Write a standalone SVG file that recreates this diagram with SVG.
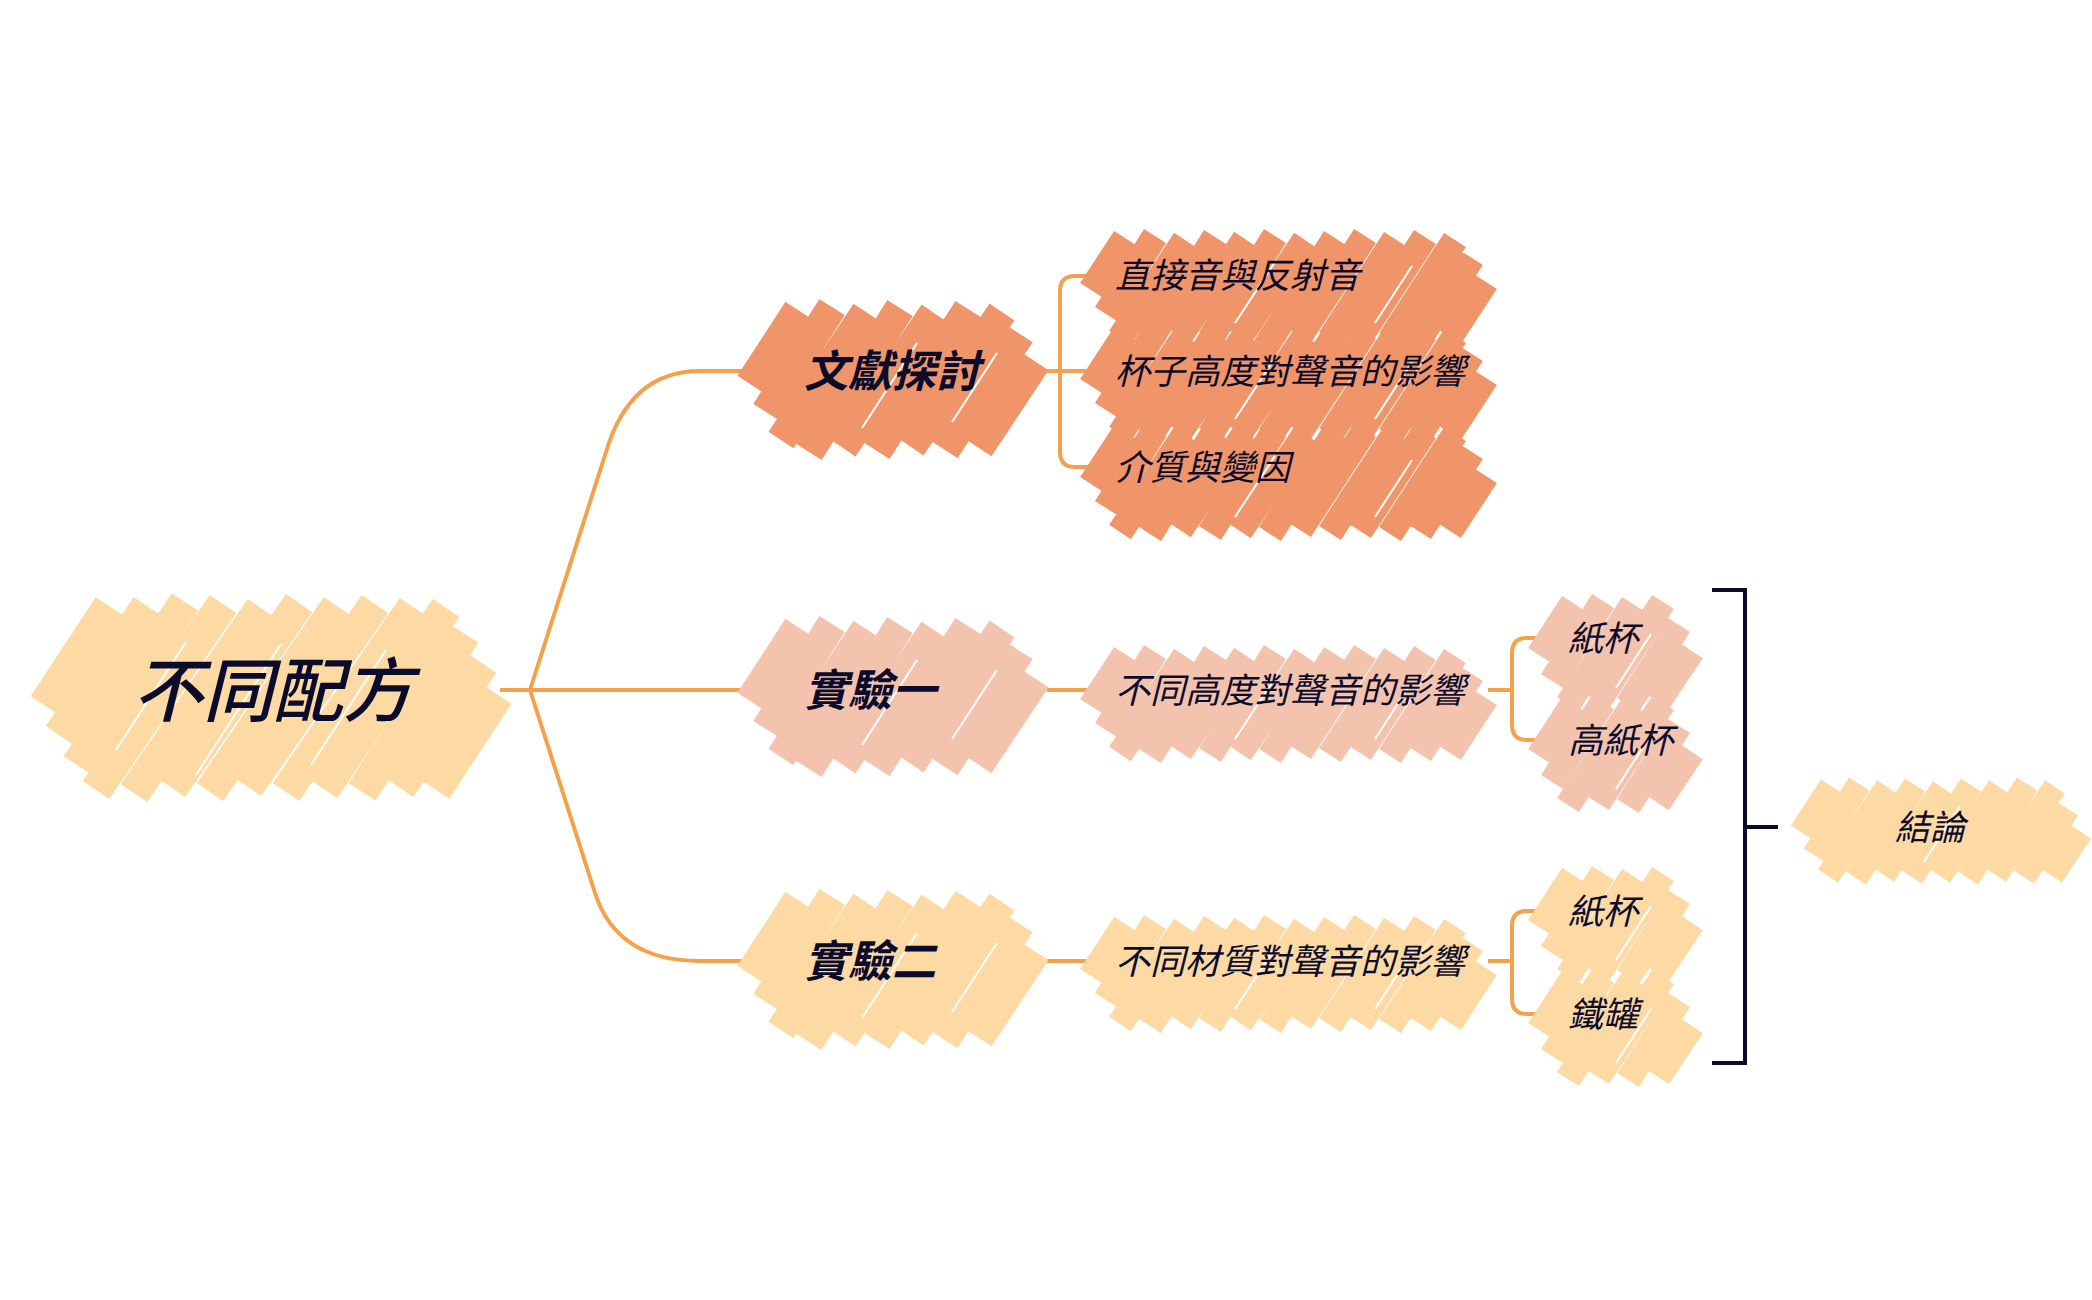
<svg xmlns="http://www.w3.org/2000/svg" xmlns:xlink="http://www.w3.org/1999/xlink" width="2092" height="1300" viewBox="0 0 2092 1300">
<style>
.t{font-family:"Noto Sans CJK TC","Noto Sans CJK SC",sans-serif;font-style:italic;fill:#0b0b2b}
.b{font-weight:700}
.c{fill:none;stroke:#F5A04B;stroke-width:4}
.k{fill:none;stroke:#0b0b2b;stroke-width:4}
.w{stroke:#ffffff;stroke-width:2}
</style>
<defs>
<g id="h-root" stroke-width="32" stroke-linecap="butt" fill="none">
<path d="M8,105 L73,6 M23,135 L111,6 M41,165 L149,2 M60,190 L187,4 M98,193 L225,8 M136,188 L263,3 M174,192 L301,6 M212,187 L339,4 M250,192 L377,7 M288,189 L410,8 M326,192 L429,34 M364,188 L447,64 M400,190 L462,95"/>
<path class="w" d="M80,150 L150,42 M160,175 L245,44 M275,165 L350,50"/>
</g>
<g id="h-l1" stroke-width="30" stroke-linecap="butt" fill="none">
<path d="M3,74 L51,0 M19,102 L85,-3 M34,130 L119,2 M62,142 L153,-2 M96,138 L187,3 M130,141 L221,-1 M164,137 L255,2 M198,140 L273,24 M232,138 L289,52"/>
<path class="w" d="M115,118 L170,33 M205,112 L250,43"/>
</g>
<g id="h-l2" stroke-width="26" stroke-linecap="butt" fill="none">
<path d="M1,52 L35,0 M16,76 L65,-2 M30,100 L95,2 M60,102 L125,-1 M90,98 L155,1 M120,101 L185,-2 M150,99 L215,2 M180,102 L245,0 M210,98 L275,-2 M240,101 L305,1 M270,99 L335,-1 M300,102 L365,2 M330,100 L382,20 M360,99 L396,44"/>
<path class="w" d="M145,85 L185,24 M285,85 L322,28"/>
</g>
<g id="h-leaf" stroke-width="26" stroke-linecap="butt" fill="none">
<path d="M1,52 L35,0 M14,78 L65,-2 M30,101 L95,1 M60,99 L125,-1 M90,102 L141,22 M120,99 L154,48"/>
<path class="w" d="M78,85 L113,31"/>
</g>
<g id="h-concl" stroke-width="24" stroke-linecap="butt" fill="none">
<path d="M1,46 L31,0 M14,69 L59,-2 M28,90 L87,1 M56,92 L115,-1 M84,89 L143,2 M112,91 L171,-1 M140,90 L199,1 M168,92 L227,-2 M196,89 L255,1 M224,91 L268,23 M252,90 L281,46"/>
<path class="w" d="M124,76 L160,20"/>
</g>
</defs>

<g id="connectors">
<path class="c" d="M500,690 H530"/>
<path class="c" d="M530,690 L606,452 Q630,371 700,371 H758"/>
<path class="c" d="M530,690 H758"/>
<path class="c" d="M530,690 L595,893 Q617,961 700,961 H758"/>
<path class="c" d="M1047,371 H1097"/>
<path class="c" d="M1097,276 H1075 Q1060,276 1060,291 V452 Q1060,467 1075,467 H1097"/>
<path class="c" d="M1047,690 H1097"/>
<path class="c" d="M1488,690 H1512"/>
<path class="c" d="M1548,638 H1527 Q1512,638 1512,653 V725 Q1512,740 1527,740 H1548"/>
<path class="c" d="M1047,961 H1097"/>
<path class="c" d="M1488,961 H1512"/>
<path class="c" d="M1548,911 H1527 Q1512,911 1512,926 V999 Q1512,1014 1527,1014 H1548"/>
<path class="k" d="M1712,590 H1745 V1063 H1712"/>
<path class="k" d="M1745,827 H1778"/>
</g>

<g id="root">
<use href="#h-root" x="36" y="600" stroke="#FDD9A3"/>
<text class="t" x="133" y="716" font-size="70" font-weight="500">不同配方</text>
</g>

<g id="n-wenxian">
<use href="#h-l1" x="747" y="310" stroke="#F0956A"/>
<text class="t b" x="804" y="387" font-size="44">文獻探討</text>
</g>
<g id="n-exp1">
<use href="#h-l1" x="747" y="627" stroke="#F4C3AE"/>
<text class="t b" x="804" y="706" font-size="44">實驗一</text>
</g>
<g id="n-exp2">
<use href="#h-l1" x="747" y="900" stroke="#FDD9A3"/>
<text class="t b" x="804" y="977" font-size="44">實驗二</text>
</g>

<g id="n-direct">
<use href="#h-l2" x="1090" y="238" stroke="#F0956A"/>
<text class="t" x="1115" y="288" font-size="35">直接音與反射音</text>
</g>
<g id="n-cupheight">
<use href="#h-l2" x="1090" y="334" stroke="#F0956A"/>
<text class="t" x="1115" y="384" font-size="35">杯子高度對聲音的影響</text>
</g>
<g id="n-medium">
<use href="#h-l2" x="1090" y="432" stroke="#F0956A"/>
<text class="t" x="1115" y="480" font-size="35">介質與變因</text>
</g>
<g id="n-height">
<use href="#h-l2" x="1090" y="654" stroke="#F4C3AE"/>
<text class="t" x="1115" y="703" font-size="35">不同高度對聲音的影響</text>
</g>
<g id="n-material">
<use href="#h-l2" x="1090" y="924" stroke="#FDD9A3"/>
<text class="t" x="1115" y="974" font-size="35">不同材質對聲音的影響</text>
</g>

<g id="n-papercup1">
<use href="#h-leaf" x="1538" y="603" stroke="#F4C3AE"/>
<text class="t" x="1568" y="651" font-size="35">紙杯</text>
</g>
<g id="n-tallcup">
<use href="#h-leaf" x="1538" y="704" stroke="#F4C3AE"/>
<text class="t" x="1568" y="753" font-size="35">高紙杯</text>
</g>
<g id="n-papercup2">
<use href="#h-leaf" x="1538" y="875" stroke="#FDD9A3"/>
<text class="t" x="1568" y="924" font-size="35">紙杯</text>
</g>
<g id="n-can">
<use href="#h-leaf" x="1538" y="978" stroke="#FDD9A3"/>
<text class="t" x="1568" y="1027" font-size="35">鐵罐</text>
</g>

<g id="n-conclusion">
<use href="#h-concl" x="1800" y="786" stroke="#FDD9A3"/>
<text class="t" x="1930" y="840" font-size="35" text-anchor="middle">結論</text>
</g>
</svg>
